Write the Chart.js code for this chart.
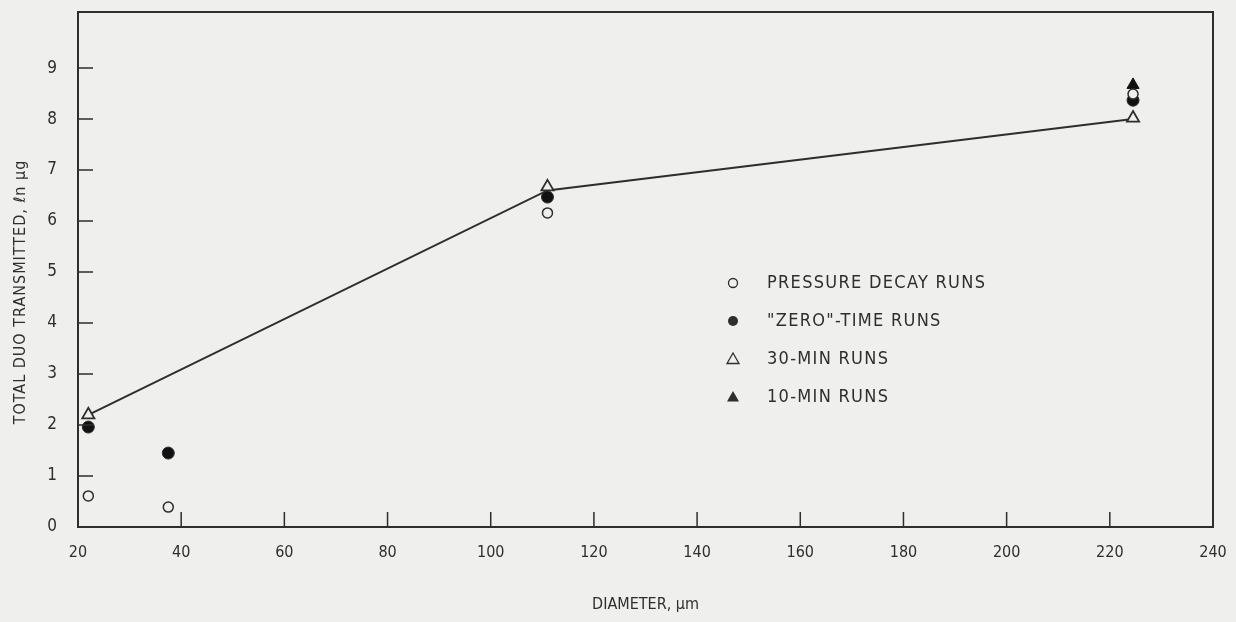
<!DOCTYPE html>
<html lang="en">
<head>
    <meta charset="UTF-8">
    <title>Total DUO transmitted vs diameter</title>
    <style>
        html, body {
            margin: 0;
            padding: 0;
            background: #efefed;
        }
        .container {
            width: 1236px;
            height: 622px;
            position: relative;
        }
    </style>
    <script src="https://cdn.jsdelivr.net/npm/chart.js"></script>
</head>
<body>
    <div class="container">
        <canvas id="duoChart" width="1236" height="622"></canvas>
    </div>

    <script>
        // data (diameter in um, ln ug)
        const xTicks = [20, 40, 60, 80, 100, 120, 140, 160, 180, 200, 220, 240];
        const yTicks = [0, 1, 2, 3, 4, 5, 6, 7, 8, 9];

        const pressureX = [22, 37.5, 111, 224.5];
        const pressureY = [0.61, 0.39, 6.16, 8.49];

        const zeroX = [22, 37.5, 111, 224.5];
        const zeroY = [1.96, 1.45, 6.47, 8.37];

        const min30X = [22, 111, 224.5];
        const min30Y = [2.2, 6.67, 8.02];

        const min10X = [224.5];
        const min10Y = [8.67];

        const fitX = [22, 111, 224.5];
        const fitY = [2.2, 6.6, 8.0];

        const legendLabels = ['PRESSURE DECAY RUNS', '"ZERO"-TIME RUNS', '30-MIN RUNS', '10-MIN RUNS'];

        const ink = '#2e2e2e';
        const paper = '#efefed';
        const font = '"DejaVu Sans Condensed", "Liberation Sans Narrow", sans-serif';

        function pts(xs, ys) {
            return xs.map((x, i) => ({ x: x, y: ys[i] }));
        }

        // frame, inward tick marks, legend and y title
        const framePlugin = {
            id: 'frame',
            afterDraw(chart) {
                const c = chart.ctx;
                const a = chart.chartArea;
                const xs = chart.scales.x;
                const ys = chart.scales.y;
                c.save();
                c.strokeStyle = ink;
                c.lineWidth = 2;
                c.strokeRect(a.left, a.top, a.right - a.left, a.bottom - a.top);

                c.lineWidth = 1.5;
                c.beginPath();
                yTicks.slice(1).forEach(v => {
                    const p = ys.getPixelForValue(v);
                    c.moveTo(a.left, p);
                    c.lineTo(a.left + 15, p);
                });
                xTicks.slice(1, -1).forEach(v => {
                    const p = xs.getPixelForValue(v);
                    c.moveTo(p, a.bottom);
                    c.lineTo(p, a.bottom - 15);
                });
                c.stroke();

                // legend
                const lx = a.left + 655;
                const ly = a.top + 271;
                c.font = '18px ' + font;
                c.letterSpacing = '1.3px';
                c.textBaseline = 'middle';
                legendLabels.forEach((t, i) => {
                    const y = ly + i * 38;
                    c.fillStyle = ink;
                    c.fillText(t, lx + 34, y);
                    c.lineWidth = 1.3;
                    c.strokeStyle = ink;
                    c.beginPath();
                    if (i < 2) {
                        c.arc(lx, y, i === 0 ? 4.5 : 5, 0, Math.PI * 2);
                    } else {
                        c.moveTo(lx, y - 6);
                        c.lineTo(lx + 6, y + 4.5);
                        c.lineTo(lx - 6, y + 4.5);
                        c.closePath();
                    }
                    if (i === 1 || i === 3) {
                        c.fill();
                    } else {
                        c.stroke();
                    }
                });

                // y axis title
                c.letterSpacing = '1px';
                c.translate(21, 292);
                c.rotate(-Math.PI / 2);
                c.textAlign = 'center';
                c.fillStyle = ink;
                c.font = '16px ' + font;
                c.fillText('TOTAL DUO TRANSMITTED, \u2113n \u00b5g', 0, 0);
                c.restore();
            }
        };

        const ctx = document.getElementById('duoChart').getContext('2d');
        const duoChart = new Chart(ctx, {
            type: 'scatter',
            data: {
                datasets: [{
                    label: legendLabels[0],
                    data: pts(pressureX, pressureY),
                    pointStyle: 'circle',
                    pointRadius: 5,
                    pointBorderWidth: 1.5,
                    pointBorderColor: ink,
                    pointBackgroundColor: paper
                }, {
                    label: legendLabels[1],
                    data: pts(zeroX, zeroY),
                    pointStyle: 'circle',
                    pointRadius: 6,
                    pointBorderWidth: 1,
                    pointBorderColor: ink,
                    pointBackgroundColor: '#111'
                }, {
                    label: legendLabels[2],
                    data: pts(min30X, min30Y),
                    pointStyle: 'triangle',
                    pointRadius: 7,
                    pointBorderWidth: 1.8,
                    pointBorderColor: ink,
                    pointBackgroundColor: paper
                }, {
                    label: legendLabels[3],
                    data: pts(min10X, min10Y),
                    pointStyle: 'triangle',
                    pointRadius: 7,
                    pointBorderWidth: 1,
                    pointBorderColor: '#111',
                    pointBackgroundColor: '#111'
                }, {
                    type: 'line',
                    label: 'fit',
                    data: pts(fitX, fitY),
                    borderColor: ink,
                    borderWidth: 2,
                    pointRadius: 0,
                    tension: 0
                }]
            },
            options: {
                responsive: false,
                animation: false,
                layout: {
                    padding: { top: 12, right: 23, left: 0, bottom: 0 }
                },
                plugins: {
                    legend: { display: false },
                    tooltip: { enabled: false }
                },
                scales: {
                    x: {
                        type: 'linear',
                        min: 20,
                        max: 240,
                        afterBuildTicks(s) {
                            s.ticks = xTicks.map(v => ({ value: v }));
                        },
                        afterFit(s) {
                            s.height = 95;
                            s.paddingLeft = 0;
                            s.paddingRight = 0;
                        },
                        grid: { display: false, drawTicks: false },
                        border: { display: false },
                        ticks: {
                            color: ink,
                            padding: 16,
                            maxRotation: 0,
                            font: { family: font, size: 16 }
                        },
                        title: {
                            display: true,
                            text: 'DIAMETER, \u00b5m',
                            color: ink,
                            padding: { top: 0, bottom: 8 },
                            font: { family: font, size: 16 }
                        }
                    },
                    y: {
                        type: 'linear',
                        min: 0,
                        max: 10.1,
                        afterBuildTicks(s) {
                            s.ticks = yTicks.map(v => ({ value: v }));
                        },
                        afterFit(s) {
                            s.width = 78;
                            s.paddingTop = 0;
                            s.paddingBottom = 0;
                        },
                        grid: { display: false, drawTicks: false },
                        border: { display: false },
                        ticks: {
                            color: ink,
                            padding: 21,
                            font: { family: font, size: 17 }
                        }
                    }
                }
            },
            plugins: [framePlugin]
        });
    </script>
</body>
</html>
